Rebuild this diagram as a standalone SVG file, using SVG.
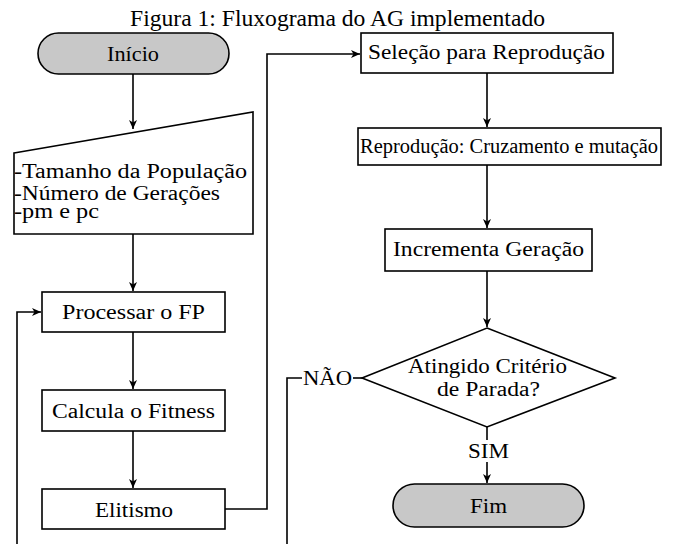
<svg xmlns="http://www.w3.org/2000/svg" width="675" height="544" viewBox="0 0 675 544">
<defs>
<marker id="arr" markerWidth="10" markerHeight="10" refX="9" refY="5" orient="auto" markerUnits="userSpaceOnUse">
<path d="M0,1 L9,5 L0,9 L2.5,5 z" fill="#000"/>
</marker>
<style>
.n{fill:#fff;stroke:#000;stroke-width:1.6}
.g{fill:#c8c8c8;stroke:#000;stroke-width:1.6}
.m{text-anchor:middle}
.c{fill:none;stroke:#000;stroke-width:1.6}
</style>
</defs>
<rect width="675" height="544" fill="#fff"/>
<g font-family="Liberation Serif, serif" font-size="20.5" fill="#000">
<text x="337.5" y="26" class="m" font-size="23" textLength="415" lengthAdjust="spacingAndGlyphs">Figura 1: Fluxograma do AG implementado</text>
<g id="connectors">
<line class="c" x1="133" y1="74" x2="133" y2="129" marker-end="url(#arr)"/>
<line class="c" x1="133" y1="234" x2="133" y2="291" marker-end="url(#arr)"/>
<line class="c" x1="133" y1="332" x2="133" y2="389" marker-end="url(#arr)"/>
<line class="c" x1="133" y1="431" x2="133" y2="488" marker-end="url(#arr)"/>
<polyline class="c" points="225,509 267,509 267,54 360,54" marker-end="url(#arr)"/>
<line class="c" x1="487" y1="73" x2="487" y2="127" marker-end="url(#arr)"/>
<line class="c" x1="487" y1="165" x2="487" y2="228" marker-end="url(#arr)"/>
<line class="c" x1="487" y1="271" x2="487" y2="327" marker-end="url(#arr)"/>
<line class="c" x1="487" y1="427" x2="487" y2="440"/>
<line class="c" x1="487" y1="462" x2="487" y2="483" marker-end="url(#arr)"/>
<line class="c" x1="362" y1="378" x2="353" y2="378"/>
<polyline class="c" points="302,378 287,378 287,544"/>
<polyline class="c" points="17,544 17,312 41,312" marker-end="url(#arr)"/>
<text x="327.5" y="385" class="m" textLength="49" lengthAdjust="spacingAndGlyphs">NÃO</text>
<text x="488.5" y="458" class="m" textLength="41" lengthAdjust="spacingAndGlyphs">SIM</text>
</g>
<g id="inicio">
<rect class="g" x="38" y="33" width="191" height="41" rx="20.5"/>
<text x="133" y="61" class="m" textLength="52" lengthAdjust="spacingAndGlyphs">Início</text>
</g>
<g id="entrada">
<polygon class="n" points="14,153 253,112 253,234 14,234"/>
<text x="14" y="178" textLength="233" lengthAdjust="spacingAndGlyphs">-Tamanho da População</text>
<text x="14" y="200" textLength="206" lengthAdjust="spacingAndGlyphs">-Número de Gerações</text>
<text x="14" y="218" textLength="85" lengthAdjust="spacingAndGlyphs">-pm e pc</text>
</g>
<g id="processar">
<rect class="n" x="42" y="292" width="183" height="40"/>
<text x="133.5" y="319" class="m" textLength="143" lengthAdjust="spacingAndGlyphs">Processar o FP</text>
</g>
<g id="calcula">
<rect class="n" x="42" y="390" width="183" height="41"/>
<text x="133.5" y="418" class="m" textLength="163" lengthAdjust="spacingAndGlyphs">Calcula o Fitness</text>
</g>
<g id="elitismo">
<rect class="n" x="42" y="489" width="183" height="40"/>
<text x="134" y="517" class="m" textLength="78" lengthAdjust="spacingAndGlyphs">Elitismo</text>
</g>
<g id="selecao">
<rect class="n" x="361" y="33" width="252" height="40"/>
<text x="486.5" y="59" class="m" textLength="237" lengthAdjust="spacingAndGlyphs">Seleção para Reprodução</text>
</g>
<g id="reproducao">
<rect class="n" x="358" y="128" width="303" height="37"/>
<text x="509" y="153" class="m" textLength="298" lengthAdjust="spacingAndGlyphs">Reprodução: Cruzamento e mutação</text>
</g>
<g id="incrementa">
<rect class="n" x="385" y="229" width="207" height="42"/>
<text x="488.5" y="256" class="m" textLength="191" lengthAdjust="spacingAndGlyphs">Incrementa Geração</text>
</g>
<g id="criterio">
<polygon class="n" points="487,328 615,378 487,427 362,378"/>
<text x="487.5" y="373" class="m" textLength="159" lengthAdjust="spacingAndGlyphs">Atingido Critério</text>
<text x="488.5" y="396" class="m" textLength="103" lengthAdjust="spacingAndGlyphs">de Parada?</text>
</g>
<g id="fim">
<rect class="g" x="393" y="484" width="191" height="43" rx="21.5"/>
<text x="488.5" y="513" class="m" textLength="37" lengthAdjust="spacingAndGlyphs">Fim</text>
</g>
</g>
</svg>
